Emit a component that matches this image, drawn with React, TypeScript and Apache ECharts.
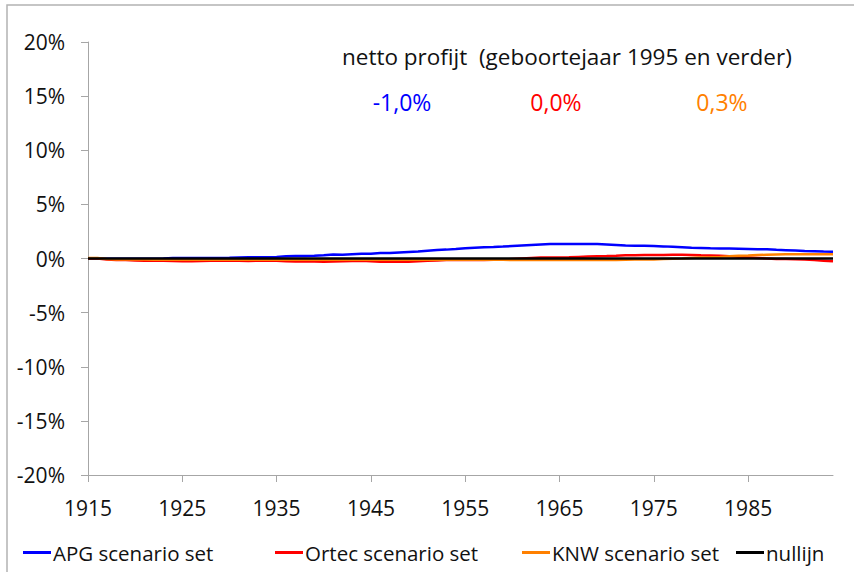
import React, { useEffect, useRef } from "react";
import * as echarts from "echarts";

const years: string[] = [];
for (let y = 1915; y <= 1994; y++) years.push(String(y));

// values in %
const apg = [
  0.0, 0.0, -0.02, -0.02, -0.02, -0.02, -0.02, -0.02, 0.0, 0.05,
  0.05, 0.05, 0.05, 0.05, 0.05, 0.06, 0.1, 0.12, 0.12, 0.12,
  0.15, 0.2, 0.22, 0.22, 0.25, 0.3, 0.37, 0.35, 0.4, 0.45,
  0.45, 0.5, 0.5, 0.55, 0.6, 0.65, 0.72, 0.78, 0.82, 0.88,
  0.95, 1.0, 1.03, 1.06, 1.1, 1.15, 1.2, 1.25, 1.3, 1.33,
  1.33, 1.33, 1.33, 1.33, 1.33, 1.3, 1.25, 1.2, 1.17, 1.17,
  1.15, 1.12, 1.08, 1.04, 1.0, 0.98, 0.95, 0.93, 0.92, 0.9,
  0.88, 0.86, 0.85, 0.8, 0.77, 0.74, 0.7, 0.68, 0.64, 0.62,
];
const ortec = [
  0.0, 0.0, -0.1, -0.15, -0.15, -0.18, -0.2, -0.2, -0.2, -0.22,
  -0.25, -0.25, -0.22, -0.2, -0.2, -0.2, -0.2, -0.22, -0.2, -0.2,
  -0.2, -0.25, -0.28, -0.28, -0.28, -0.3, -0.28, -0.25, -0.22, -0.2,
  -0.25, -0.3, -0.3, -0.3, -0.3, -0.25, -0.2, -0.18, -0.15, -0.15,
  -0.15, -0.15, -0.15, -0.12, -0.1, -0.05, 0.0, 0.05, 0.1, 0.1,
  0.1, 0.12, 0.15, 0.18, 0.2, 0.22, 0.25, 0.3, 0.3, 0.32,
  0.32, 0.33, 0.35, 0.35, 0.33, 0.3, 0.28, 0.25, 0.2, 0.15,
  0.1, 0.05, 0.0, -0.05, -0.05, -0.08, -0.1, -0.15, -0.2, -0.25,
];
const knw = [
  0.05, 0.05, -0.05, -0.1, -0.1, -0.1, -0.1, -0.12, -0.12, -0.12,
  -0.12, -0.12, -0.12, -0.12, -0.12, -0.12, -0.12, -0.12, -0.12, -0.12,
  -0.12, -0.12, -0.12, -0.12, -0.12, -0.12, -0.12, -0.12, -0.12, -0.12,
  -0.12, -0.12, -0.12, -0.12, -0.12, -0.12, -0.12, -0.12, -0.12, -0.12,
  -0.12, -0.12, -0.12, -0.12, -0.12, -0.15, -0.15, -0.15, -0.15, -0.15,
  -0.15, -0.15, -0.15, -0.15, -0.15, -0.15, -0.15, -0.12, -0.1, -0.1,
  -0.1, -0.05, -0.02, 0.0, 0.05, 0.1, 0.12, 0.15, 0.2, 0.25,
  0.28, 0.32, 0.35, 0.38, 0.4, 0.4, 0.4, 0.4, 0.4, 0.4,
];
const nullijn = years.map(() => 0);

const yTicks = [-20, -15, -10, -5, 0, 5, 10, 15, 20];
const titleText = "netto profijt  (geboortejaar 1995 en verder)";
const profitLabels = ["-1,0%", "0,0%", "0,3%"];
const seriesNames = ["APG scenario set", "Ortec scenario set", "KNW scenario set", "nullijn"];
const colors = ["#0000ff", "#ff0000", "#ff8000", "#000000"];

const FONT = "Open Sans";
const legendLefts = [18, 270, 517, 731];
const profitX = [402, 556, 722];

export default function App() {
  const ref = useRef<HTMLDivElement>(null);
  useEffect(() => {
    if (!ref.current) return;
    const chart = echarts.init(ref.current, null, { renderer: "svg" });
    const data = [apg, ortec, knw, nullijn];
    chart.setOption({
      animation: false,
      textStyle: { fontFamily: FONT },
      grid: { left: 88, right: 21, top: 42, bottom: 97, containLabel: false },
      xAxis: {
        type: "category",
        data: years,
        boundaryGap: false,
        axisLine: { onZero: false, lineStyle: { color: "#a6a6a6", width: 1 } },
        axisTick: { interval: 9, length: 7, inside: false, lineStyle: { color: "#a6a6a6" } },
        axisLabel: { interval: 9, margin: 22, fontSize: 21, color: "#111", fontFamily: FONT },
        splitLine: { show: false },
      },
      yAxis: {
        type: "value",
        min: -20,
        max: 20,
        interval: 5,
        axisLine: { show: true, lineStyle: { color: "#a6a6a6", width: 1 } },
        axisTick: { show: true, length: 7, lineStyle: { color: "#a6a6a6" } },
        axisLabel: {
          margin: 23,
          fontSize: 21,
          color: "#111",
          fontFamily: FONT,
          formatter: (v: number) => (yTicks.includes(v) ? `${v}%` : ""),
        },
        splitLine: { show: false },
      },
      legend: seriesNames.map((name, i) => ({
        left: legendLefts[i],
        top: 537,
        itemWidth: 28,
        itemHeight: 3,
        icon: "rect",
        textStyle: { fontSize: 20.5, color: "#111", fontFamily: FONT, padding: [0, 0, 0, -3] },
        data: [name],
      })),
      graphic: [
        {
          type: "rect",
          shape: { x: 7, y: 5, width: 900, height: 700 },
          style: { fill: "none", stroke: "#b3b3b3", lineWidth: 1.5 },
          silent: true,
        },
        {
          type: "text",
          left: 342,
          top: 45,
          style: { text: titleText, fontSize: 22.5, fill: "#111", fontFamily: FONT },
        },
        ...profitLabels.map((t, i) => ({
          type: "text",
          x: profitX[i],
          y: 102,
          style: { text: t, fontSize: 23, fill: colors[i], fontFamily: FONT, align: "center", verticalAlign: "middle" },
        })),
      ],
      series: seriesNames.map((name, i) => ({
        name,
        type: "line",
        data: data[i],
        showSymbol: false,
        symbol: "none",
        lineStyle: { color: colors[i], width: 2.5 },
        itemStyle: { color: colors[i] },
        z: i === 3 ? 5 : 2 + i * 0.1,
      })),
    });
    return () => chart.dispose();
  }, []);
  return (
    <div
      ref={ref}
      style={{ position: "fixed", left: 0, top: 0, width: 854, height: 572, background: "#fff" }}
    />
  );
}
